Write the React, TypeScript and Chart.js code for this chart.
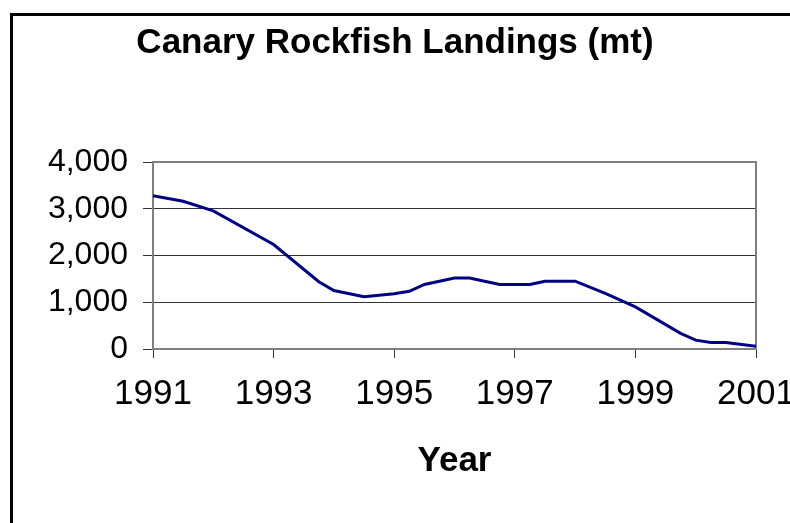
import React, { useEffect, useRef } from "react";
import { Chart, registerables } from "chart.js";

Chart.register(...registerables);

// Data
const years = [1991, 1991.5, 1992, 1993, 1993.75, 1994, 1994.5, 1995, 1995.25, 1995.5, 1996, 1996.25, 1996.75, 1997.25, 1997.5, 1998, 1998.5, 1999, 1999.75, 2000, 2000.25, 2000.5, 2001];
const landings = [3280, 3160, 2955, 2235, 1440, 1250, 1120, 1180, 1235, 1380, 1520, 1520, 1380, 1380, 1450, 1450, 1190, 900, 335, 190, 140, 140, 60];
const xTickYears = [1991, 1993, 1995, 1997, 1999, 2001];
const yTickValues = [0, 1000, 2000, 3000, 4000];
const chartTitle = "Canary Rockfish Landings (mt)";
const xAxisTitle = "Year";

const FONT = "'Liberation Sans', Arial, Helvetica, sans-serif";

const framePlugin = {
  id: "frame",
  beforeDraw(chart: any) {
    const ctx = chart.ctx;
    ctx.save();
    ctx.fillStyle = "#ffffff";
    ctx.fillRect(0, 0, chart.width, chart.height);
    ctx.strokeStyle = "#000000";
    ctx.lineWidth = 3;
    ctx.strokeRect(11.5, 14.5, chart.width + 40, chart.height + 40);
    ctx.restore();
  },
  beforeDatasetsDraw(chart: any) {
    const { ctx, chartArea } = chart;
    ctx.save();
    ctx.strokeStyle = "#808080";
    ctx.lineWidth = 2;
    ctx.beginPath();
    ctx.moveTo(chartArea.left, chartArea.top);
    ctx.lineTo(chartArea.right, chartArea.top);
    ctx.lineTo(chartArea.right, chartArea.bottom);
    ctx.stroke();
    ctx.restore();
  },
};

export default function App() {
  const ref = useRef<HTMLCanvasElement | null>(null);
  useEffect(() => {
    if (!ref.current) return;
    const chart = new Chart(ref.current, {
      type: "line",
      data: {
        datasets: [
          {
            data: years.map((y, i) => ({ x: y, y: landings[i] })),
            borderColor: "#000080",
            borderWidth: 3,
            pointRadius: 0,
            tension: 0,
            fill: false,
          },
        ],
      },
      options: {
        animation: false,
        responsive: false,
        layout: { padding: 0 },
        plugins: {
          legend: { display: false },
          tooltip: { enabled: false },
          title: {
            display: true,
            text: chartTitle,
            color: "#000",
            font: { family: FONT, size: 35, weight: "bold", lineHeight: 1.2 },
            padding: { top: 22, bottom: 98 },
          },
        },
        scales: {
          x: {
            type: "linear",
            min: 1991,
            max: 2001,
            afterBuildTicks: (scale: any) => {
              scale.ticks = xTickYears.map((v) => ({ value: v }));
            },
            afterFit: (scale: any) => {
              scale.height = 174;
              scale.paddingLeft = 0;
              scale.paddingRight = 34;
            },
            ticks: {
              color: "#000",
              font: { family: FONT, size: 35, lineHeight: 1.2 },
              padding: 15,
              maxRotation: 0,
              autoSkip: false,
              callback: (v: any) => String(v),
            },
            grid: {
              drawOnChartArea: false,
              drawTicks: true,
              tickLength: 9,
              tickColor: "#333333",
              tickWidth: 1,
            },
            border: { display: true, color: "#808080", width: 2 },
            title: {
              display: true,
              text: xAxisTitle,
              color: "#000",
              font: { family: FONT, size: 35, weight: "bold", lineHeight: 1.2 },
              padding: { top: 0, bottom: 41 },
            },
          },
          y: {
            min: 0,
            max: 4000,
            afterBuildTicks: (scale: any) => {
              scale.ticks = yTickValues.map((v) => ({ value: v }));
            },
            afterFit: (scale: any) => {
              scale.width = 153;
            },
            ticks: {
              color: "#000",
              font: { family: FONT, size: 32, lineHeight: 1.2 },
              padding: 15,
              callback: (v: any) => Number(v).toLocaleString("en-US"),
            },
            grid: {
              color: (c: any) =>
                c.tick && (c.tick.value === 0 || c.tick.value === 4000) ? "rgba(0,0,0,0)" : "#333333",
              lineWidth: 1,
              tickLength: 10,
              tickColor: "#333333",
              tickWidth: 1,
            },
            border: { display: true, color: "#808080", width: 2 },
          },
        },
      },
      plugins: [framePlugin],
    } as any);
    return () => chart.destroy();
  }, []);
  return (
    <div style={{ position: "fixed", left: 0, top: 0, width: 790, height: 523, background: "#fff" }}>
      <canvas ref={ref} width={790} height={523} style={{ display: "block" }} />
    </div>
  );
}
